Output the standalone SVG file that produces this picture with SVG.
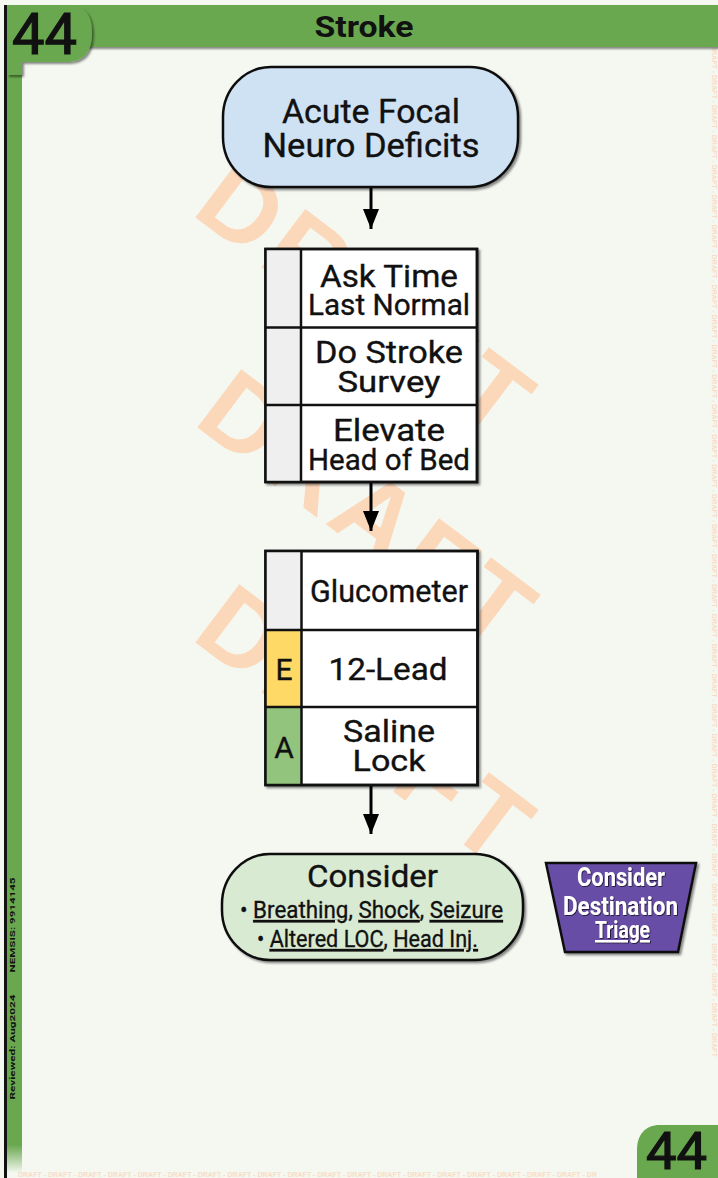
<svg xmlns="http://www.w3.org/2000/svg" width="718" height="1178" viewBox="0 0 718 1178">
<defs>
<style>
.t{font-family:Roboto,"Liberation Sans",sans-serif;fill:#111;text-anchor:middle;stroke:#111;stroke-width:0.35}
.b{stroke:#111;stroke-width:2.5}
.u{text-decoration:underline}
.wm{font-family:"Liberation Sans",Arial,sans-serif;font-weight:bold;font-size:106px;fill:#fcd8bb;letter-spacing:6px;text-anchor:middle}
.sm{font-family:"Liberation Sans",Arial,sans-serif;font-weight:bold;font-size:7px;fill:#f9dcc5}
.conn{stroke:#000;stroke-width:3;fill:none}
.n44{font-family:Roboto,"Liberation Sans",sans-serif;fill:#111;stroke:#111;stroke-width:1.2}
</style>
<filter id="sh" x="-10%" y="-10%" width="130%" height="130%"><feDropShadow dx="2" dy="2" stdDeviation="1.3" flood-color="#000" flood-opacity="0.45"/></filter>
<filter id="tsh" x="-10%" y="-10%" width="130%" height="130%"><feDropShadow dx="0.8" dy="0.8" stdDeviation="0.5" flood-color="#000" flood-opacity="0.8"/></filter>
<linearGradient id="fade" x1="0" y1="0" x2="0" y2="1"><stop offset="0" stop-color="#6aa84f"/><stop offset="1" stop-color="#6aa84f" stop-opacity="0"/></linearGradient>
<marker id="ah" viewBox="0 0 16 20" refX="8" refY="20" markerWidth="16" markerHeight="20" orient="0" markerUnits="userSpaceOnUse"><path d="M0,0 L8,20 L16,0 Z" fill="#000"/></marker>
</defs>
<rect width="718" height="1178" fill="#f4f8f1"/>

<g id="watermark">
<text class="wm" transform="translate(368,300) rotate(37)" x="0" y="38">DRAFT</text>
<text class="wm" transform="translate(370,510) rotate(37)" x="0" y="38">DRAFT</text>
<text class="wm" transform="translate(368,725) rotate(37)" x="0" y="38">DRAFT</text>
<text class="sm" transform="translate(712,45) rotate(90)" x="0" y="0">DRAFT - DRAFT - DRAFT - DRAFT - DRAFT - DRAFT - DRAFT - DRAFT - DRAFT - DRAFT - DRAFT - DRAFT - DRAFT - DRAFT - DRAFT - DRAFT - DRAFT - DRAFT - DRAFT - DRAFT - DRAFT - DRAFT - DRAFT - DRAFT - DRAFT - DRAFT - DRAFT - DRAFT - DRAFT - DRAFT - DRAFT - DRAFT - DRAFT - DRAFT</text>
<text class="sm" x="18" y="1177">DRAFT - DRAFT - DRAFT - DRAFT - DRAFT - DRAFT - DRAFT - DRAFT - DRAFT - DRAFT - DRAFT - DRAFT - DRAFT - DRAFT - DRAFT - DRAFT - DRAFT - DRAFT - DRAFT - DR</text>
</g>

<g id="frame">
<rect x="7" y="5" width="15" height="1140" fill="#6aa84f"/>
<rect x="7" y="1145" width="15" height="28" fill="url(#fade)"/>
<rect x="4" y="5" width="3" height="1173" fill="#111"/>
<rect x="8" y="5" width="710" height="42" fill="#6aa84f" filter="url(#sh)"/>
<path d="M7,5 H66 C84,5 92,14 92,32 C92,52 84,62 66,62 H22 V75 H7 Z" fill="#6aa84f" filter="url(#sh)"/>
<rect x="4" y="5" width="3" height="80" fill="#111"/>
<text class="t" x="364" y="37" font-size="30" style="font-weight:bold;stroke-width:0" textLength="99" lengthAdjust="spacingAndGlyphs">Stroke</text>
<text class="n44" x="12" y="54" font-size="57" textLength="65" lengthAdjust="spacingAndGlyphs">44</text>
<path d="M718,1125 H660 C645,1125 637,1135 637,1150 V1178 H718 Z" fill="#6aa84f" filter="url(#sh)"/>
<text class="n44" x="646" y="1169" font-size="51" textLength="61" lengthAdjust="spacingAndGlyphs">44</text>
<text class="t" transform="translate(15,925) rotate(-90)" x="0" y="0" font-size="8" style="font-weight:bold;stroke-width:0" textLength="95" lengthAdjust="spacingAndGlyphs">NEMSIS: 9914145</text>
<text class="t" transform="translate(15,1047) rotate(-90)" x="0" y="0" font-size="8" style="font-weight:bold;stroke-width:0" textLength="105" lengthAdjust="spacingAndGlyphs">Reviewed: Aug2024</text>
</g>

<g id="connectors">
<line class="conn" x1="371" y1="188" x2="371" y2="229" marker-end="url(#ah)"/>
<line class="conn" x1="371" y1="482" x2="371" y2="531" marker-end="url(#ah)"/>
<line class="conn" x1="371" y1="785" x2="371" y2="834" marker-end="url(#ah)"/>
</g>

<g id="start">
<rect class="b" x="223" y="67" width="295" height="120" rx="48" ry="50" fill="#cfe2f3" filter="url(#sh)"/>
<text class="t" x="371" y="123" font-size="33" textLength="178" lengthAdjust="spacingAndGlyphs">Acute Focal</text>
<text class="t" x="371" y="157" font-size="33" textLength="217" lengthAdjust="spacingAndGlyphs">Neuro Deficits</text>
</g>

<g id="steps1">
<rect class="b" x="265.5" y="249" width="211.5" height="233" fill="#fff" filter="url(#sh)"/>
<rect x="265.5" y="249" width="35.5" height="233" fill="#efefef"/>
<g class="b" fill="none">
<rect x="265.5" y="249" width="211.5" height="233"/>
<line x1="301" y1="249" x2="301" y2="482"/>
<line x1="265.5" y1="327.5" x2="477" y2="327.5"/>
<line x1="265.5" y1="405" x2="477" y2="405"/>
</g>
<text class="t" x="389" y="287" font-size="31" textLength="138" lengthAdjust="spacingAndGlyphs">Ask Time</text>
<text class="t" x="389" y="315" font-size="30" textLength="162" lengthAdjust="spacingAndGlyphs">Last Normal</text>
<text class="t" x="389" y="363" font-size="31" textLength="148" lengthAdjust="spacingAndGlyphs">Do Stroke</text>
<text class="t" x="389" y="392" font-size="30" textLength="103" lengthAdjust="spacingAndGlyphs">Survey</text>
<text class="t" x="389" y="441" font-size="31" textLength="112" lengthAdjust="spacingAndGlyphs">Elevate</text>
<text class="t" x="389" y="470" font-size="30" textLength="162" lengthAdjust="spacingAndGlyphs">Head of Bed</text>
</g>

<g id="steps2">
<rect class="b" x="265.5" y="551" width="212" height="234" fill="#fff" filter="url(#sh)"/>
<rect x="265.5" y="551" width="36" height="79" fill="#efefef"/>
<rect x="265.5" y="630" width="36" height="77" fill="#ffd966"/>
<rect x="265.5" y="707" width="36" height="78" fill="#93c47d"/>
<g class="b" fill="none">
<rect x="265.5" y="551" width="212" height="234"/>
<line x1="301.5" y1="551" x2="301.5" y2="785"/>
<line x1="265.5" y1="630" x2="477.5" y2="630"/>
<line x1="265.5" y1="707" x2="477.5" y2="707"/>
</g>
<text class="t" x="389" y="602" font-size="31" textLength="158" lengthAdjust="spacingAndGlyphs">Glucometer</text>
<text class="t" x="388" y="680" font-size="31" textLength="119" lengthAdjust="spacingAndGlyphs">12-Lead</text>
<text class="t" x="389" y="742" font-size="31" textLength="92" lengthAdjust="spacingAndGlyphs">Saline</text>
<text class="t" x="389" y="771" font-size="30" textLength="73" lengthAdjust="spacingAndGlyphs">Lock</text>
<text class="t" x="284" y="680" font-size="30">E</text>
<text class="t" x="284" y="758" font-size="30">A</text>
</g>

<g id="consider">
<rect class="b" x="222" y="854" width="301" height="106" rx="48" ry="50" fill="#d9ead3" filter="url(#sh)"/>
<text class="t" x="372.5" y="887" font-size="31" textLength="131" lengthAdjust="spacingAndGlyphs">Consider</text>
<text class="t" x="371.5" y="918" font-size="24" textLength="263" lengthAdjust="spacingAndGlyphs">• <tspan class="u">Breathing</tspan>, <tspan class="u">Shock</tspan>, <tspan class="u">Seizure</tspan></text>
<text class="t" x="367.5" y="947" font-size="24" textLength="221" lengthAdjust="spacingAndGlyphs">• <tspan class="u">Altered LOC</tspan>, <tspan class="u">Head Inj.</tspan></text>
</g>

<g id="triage">
<path class="b" d="M546,863 L696,863 L678,952 L565,952 Z" fill="#674ea7" filter="url(#sh)"/>
<g filter="url(#tsh)">
<text class="t" x="621" y="886" font-size="25" style="fill:#fff;stroke-width:0;font-weight:bold" textLength="88" lengthAdjust="spacingAndGlyphs">Consider</text>
<text class="t" x="620.5" y="915" font-size="25" style="fill:#fff;stroke-width:0;font-weight:bold" textLength="115" lengthAdjust="spacingAndGlyphs">Destination</text>
<text class="t u" x="622.5" y="938" font-size="24" style="fill:#fff;stroke-width:0;font-weight:bold" textLength="55" lengthAdjust="spacingAndGlyphs">Triage</text>
</g>
</g>
</svg>
